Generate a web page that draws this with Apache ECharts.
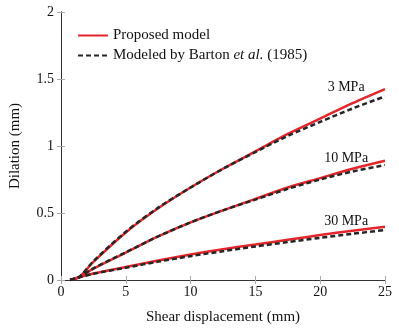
<!DOCTYPE html>
<html>
<head>
<meta charset="utf-8">
<script src="https://cdn.jsdelivr.net/npm/echarts@6/dist/echarts.min.js"></script>
<style>
  html, body { margin: 0; padding: 0; background: #fff; }
  #chart { width: 399px; height: 330px; }
</style>
</head>
<body>
<div id="chart"></div>
<script>
  // shear displacement (mm)
  const xs = [0.7, 1.4, 2.5, 5, 7.5, 10, 12.5, 15, 17.5, 20, 22.5, 25]
  // dilation (mm), proposed model
  const proposed3 = [0, 0.022, 0.135, 0.355, 0.535, 0.69, 0.83, 0.96, 1.09, 1.205, 1.32, 1.425]
  const proposed10 = [0, 0.022, 0.085, 0.205, 0.325, 0.43, 0.52, 0.605, 0.69, 0.76, 0.83, 0.89]
  const proposed30 = [0, 0.02, 0.048, 0.097, 0.145, 0.19, 0.23, 0.265, 0.3, 0.335, 0.368, 0.398]
  // dilation (mm), Barton et al. (1985)
  const barton3 = [0, 0.022, 0.14, 0.36, 0.54, 0.69, 0.83, 0.955, 1.075, 1.18, 1.28, 1.37]
  const barton10 = [0, 0.022, 0.087, 0.207, 0.325, 0.43, 0.52, 0.6, 0.68, 0.75, 0.81, 0.858]
  const barton30 = [0, 0.02, 0.046, 0.092, 0.137, 0.178, 0.215, 0.25, 0.283, 0.315, 0.345, 0.373]
  // stress labels and where they sit (data units)
  const stressLabels = ['3 MPa', '10 MPa', '30 MPa']
  const labelPos = [[22.0, 1.44], [22.0, 0.91], [22.0, 0.44]]

  const FONT = 'Liberation Serif'
  const RED = '#e3262b'
  const DARK = '#262626'

  const pairs = ys => xs.map((x, i) => [x, ys[i]])

  const chart = echarts.init(document.getElementById('chart'))

  const redSeries = [proposed3, proposed10, proposed30].map((ys, k) => ({
    name: 'Proposed model',
    type: 'line',
    smooth: 0.3,
    symbol: 'none',
    lineStyle: { color: RED, width: 2.5 },
    itemStyle: { color: RED },
    z: 2,
    markPoint: {
      symbol: 'circle',
      symbolSize: 0,
      silent: true,
      label: {
        show: true,
        position: 'inside',
        color: '#111',
        fontFamily: FONT,
        fontSize: 14,
        formatter: stressLabels[k]
      },
      data: [{ coord: labelPos[k] }]
    },
    data: pairs(ys)
  }))

  const blackSeries = [barton3, barton10, barton30].map(ys => ({
    name: 'Modeled by Barton et al. (1985)',
    type: 'line',
    smooth: 0.3,
    symbol: 'none',
    lineStyle: { color: DARK, width: 2.5, type: [5, 3] },
    itemStyle: { color: DARK },
    z: 3,
    data: pairs(ys)
  }))

  const tickStyle = { show: true, inside: true, length: 4, lineStyle: { color: '#aaa' } }
  const lineStyle = { show: true, lineStyle: { color: '#333', width: 1 } }

  chart.setOption({
    animation: false,
    grid: { left: 61, right: 14, top: 12, bottom: 50 },
    legend: {
      orient: 'vertical',
      left: 72,
      top: 23,
      itemWidth: 30,
      itemHeight: 12,
      itemGap: 5,
      itemStyle: { opacity: 0 },
      textStyle: {
        fontFamily: FONT,
        fontSize: 15,
        color: '#111',
        rich: {
          n: { fontFamily: FONT, fontSize: 15, color: '#111' },
          i: { fontFamily: FONT, fontSize: 15, color: '#111', fontStyle: 'italic' }
        }
      },
      formatter(name) {
        if (name.indexOf('Barton') >= 0) {
          return '{n|Modeled by Barton }{i|et al.}{n| (1985)}'
        }
        return name
      },
      data: ['Proposed model', 'Modeled by Barton et al. (1985)']
    },
    xAxis: [{
      type: 'value',
      min: 0,
      max: 25,
      interval: 5,
      name: 'Shear displacement (mm)',
      nameLocation: 'middle',
      nameGap: 30,
      nameTextStyle: { fontFamily: FONT, fontSize: 15, color: '#111' },
      axisLine: lineStyle,
      axisTick: tickStyle,
      splitLine: { show: false },
      axisLabel: { fontFamily: FONT, fontSize: 14, color: '#111', margin: 5 }
    }, {
      type: 'value',
      position: 'top',
      min: 0,
      max: 25,
      interval: 5,
      axisLine: lineStyle,
      axisTick: tickStyle,
      splitLine: { show: false },
      axisLabel: { show: false }
    }],
    yAxis: [{
      type: 'value',
      min: 0,
      max: 2,
      interval: 0.5,
      name: 'Dilation (mm)',
      nameLocation: 'middle',
      nameGap: 38,
      nameTextStyle: { fontFamily: FONT, fontSize: 15, color: '#111' },
      axisLine: lineStyle,
      axisTick: tickStyle,
      splitLine: { show: false },
      axisLabel: { fontFamily: FONT, fontSize: 14, color: '#111', margin: 7 }
    }, {
      type: 'value',
      position: 'right',
      min: 0,
      max: 2,
      interval: 0.5,
      axisLine: lineStyle,
      axisTick: tickStyle,
      splitLine: { show: false },
      axisLabel: { show: false }
    }],
    series: redSeries.concat(blackSeries)
  })
</script>
</body>
</html>
